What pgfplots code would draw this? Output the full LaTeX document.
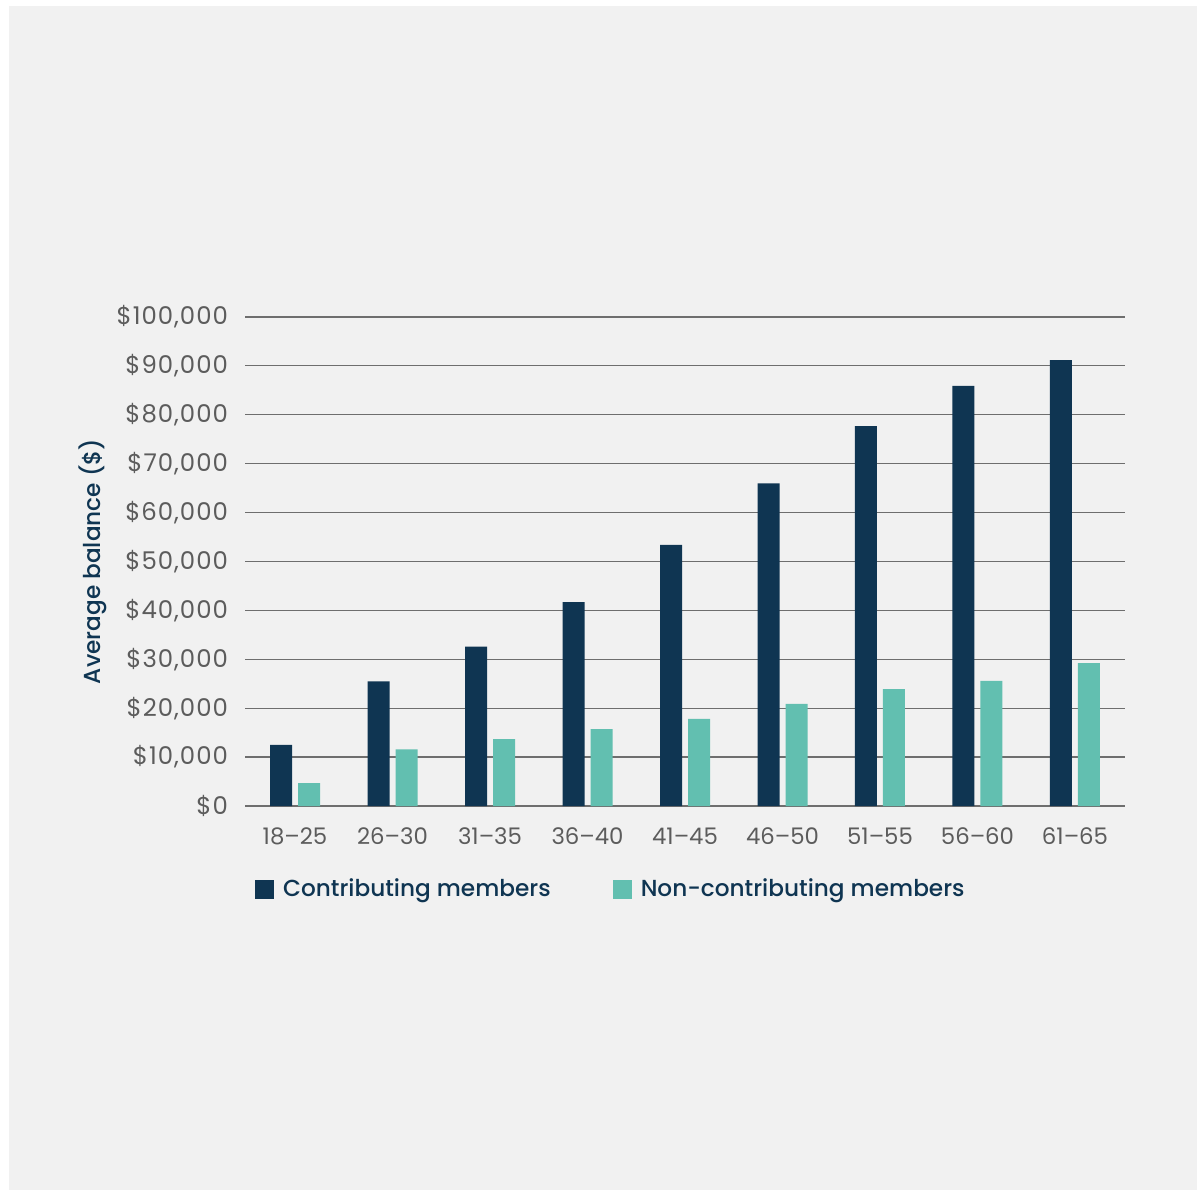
\documentclass[border=0pt]{standalone}
\usepackage{pgfplots}
\pgfplotsset{compat=1.18}
\usepackage{fontspec}
\setmainfont{Poppins}
\newfontfamily\medfont{Poppins Medium}
\definecolor{navy}{HTML}{0F3552}
\definecolor{teal}{HTML}{62BFB0}
\definecolor{bg}{HTML}{F1F1F1}
\definecolor{gridc}{HTML}{6E6E6E}
\definecolor{tickc}{HTML}{5C5C5C}
\begin{document}
\begin{tikzpicture}
\fill[white] (0,0) rectangle (598.5pt,597pt);
\fill[bg] (4.5pt,2pt) rectangle (598.5pt,594pt);
\begin{axis}[
  at={(122.5pt,194pt)}, anchor=south west,
  scale only axis, width=440pt, height=244.5pt,
  ybar, bar width=11pt,
  xmin=-0.513, xmax=8.513, ymin=0, ymax=100000,
  scaled y ticks=false,
  axis line style={draw=none},
  ymajorgrids, grid style={gridc, line width=0.6pt},
  major tick length=0pt,
  xtick={0,...,8},
  xticklabels={18–25,26–30,31–35,36–40,41–45,46–50,51–55,56–60,61–65},
  ytick={0,10000,...,100000},
  yticklabels={{\$0},{\$10,000},{\$20,000},{\$30,000},{\$40,000},{\$50,000},{\$60,000},{\$70,000},{\$80,000},{\$90,000},{\$100,000}},
  xticklabel style={font=\fontsize{11.4}{14}\selectfont, text=tickc, anchor=center, yshift=-15pt},
  yticklabel style={font=\fontsize{12.2}{14}\selectfont\addfontfeatures{LetterSpace=4}, text=tickc, anchor=east, xshift=-5pt},
  ylabel={Average balance (\$)},
  ylabel style={at={(axis description cs:-0.1727,0.5)}, anchor=center, font=\fontsize{11.6}{14}\medfont, text=navy},
  legend columns=2,
  legend style={at={(axis description cs:0.011,-0.17)}, anchor=west, draw=none, fill=none,
    font=\fontsize{11.6}{14}\medfont, text=navy, inner sep=0pt,
    /tikz/every odd column/.append style={column sep=2.5pt},
    /tikz/every even column/.append style={column sep=29pt}},
  legend image code/.code={\fill[#1] (0pt,-4.75pt) rectangle (9.5pt,4.75pt);},
  clip=false,
]
\addplot[fill=navy, draw=none, bar shift=-7pt] coordinates {
(0,12500) (1,25500) (2,32600) (3,41700) (4,53400) (5,66000) (6,77700) (7,85900) (8,91200)};
\addplot[fill=teal, draw=none, bar shift=7pt] coordinates {
(0,4700) (1,11600) (2,13700) (3,15700) (4,17800) (5,20900) (6,23900) (7,25600) (8,29200)};
\legend{Contributing members, Non-contributing members}
\end{axis}
\end{tikzpicture}
\end{document}
